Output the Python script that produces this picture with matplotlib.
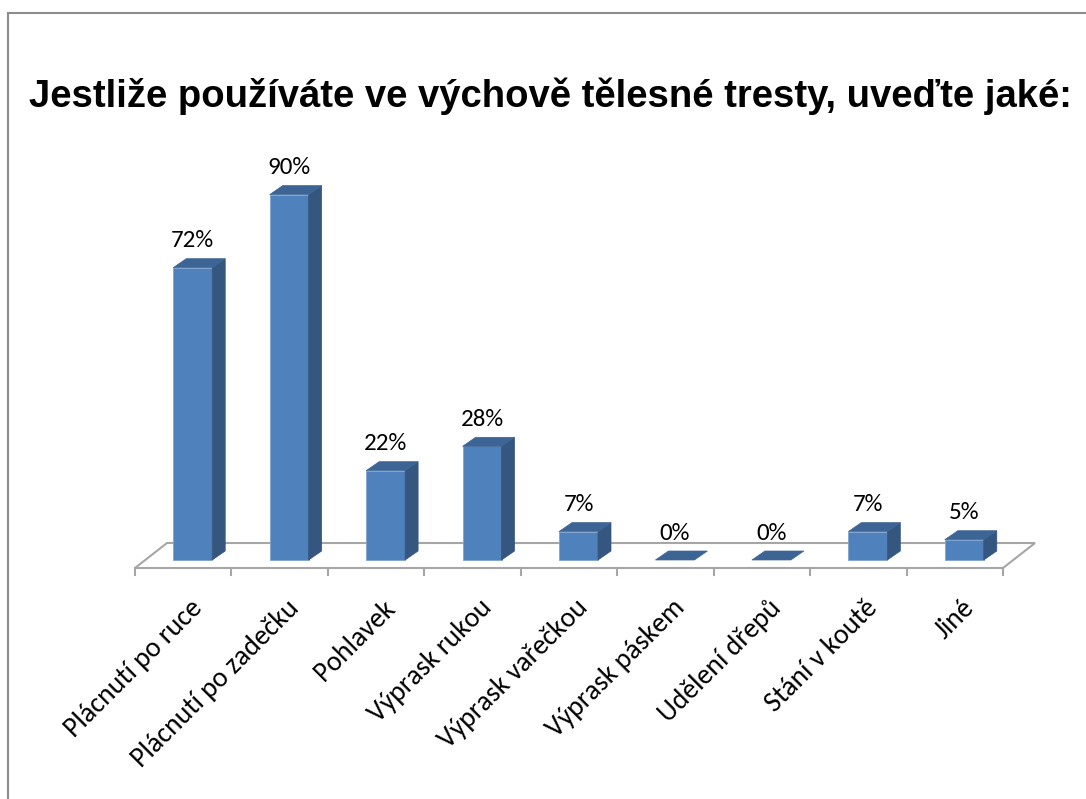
"""3D-style bar chart: tělesné tresty ve výchově"""
import matplotlib
matplotlib.use("Agg")
import matplotlib.pyplot as plt
from matplotlib.patches import Polygon
from matplotlib import font_manager

categories = [
    "Plácnutí po ruce", "Plácnutí po zadečku", "Pohlavek", "Výprask rukou",
    "Výprask vařečkou", "Výprask páskem", "Udělení dřepů", "Stání v koutě", "Jiné",
]
values = [72, 90, 22, 28, 7, 0, 0, 7, 5]
title = "Jestliže používáte ve výchově tělesné tresty, uveďte jaké:"

names = {f.name for f in font_manager.fontManager.ttflist}
label_font = ["Carlito"] if "Carlito" in names else ["Lato"]

W, H = 1086, 799
fig = plt.figure(figsize=(W / 100, H / 100), dpi=100)

# plot area in pixels: front floor edge 135..1003 at y=568, 100% = 406 px
x0, x1, y0, ppp = 135, 1003, 568, 4.06
ax = fig.add_axes([x0 / W, (H - y0) / H, (x1 - x0) / W, ppp * 100 / H])
n = len(categories)
ax.set_xlim(-0.5, n - 0.5)
ax.set_ylim(0, 100)
ax.axis("off")

px_x = (x1 - x0) / n      # pixels per category
px_y = ppp                # pixels per percent


def dx(p):
    return p / px_x


def dy(p):
    return p / px_y


# floor
floor_dx, floor_dy = dx(32), dy(25)
grey = "#a6a6a6"
floor = Polygon([(-0.5, 0), (n - 0.5, 0), (n - 0.5 + floor_dx, floor_dy),
                 (-0.5 + floor_dx, floor_dy)], closed=True, facecolor="white",
                edgecolor=grey, lw=1.5, clip_on=False, zorder=1)
ax.add_patch(floor)
for i in range(n + 1):
    ax.plot([i - 0.5, i - 0.5], [0, -dy(7)], color=grey, lw=1.5, clip_on=False, zorder=1)

# bars
front_c, side_c, top_c = "#4f81bd", "#34567f", "#3c6595"
bw = dx(39)
off_x, off_y = dx(9.5), dy(8)
dep_x, dep_y = dx(13), dy(9)
for i, v in enumerate(values):
    l = i - bw / 2 + off_x
    r = l + bw
    b = off_y
    t = b + v
    if v > 0:
        ax.add_patch(Polygon([(l, b), (r, b), (r, t), (l, t)], closed=True,
                             facecolor=front_c, edgecolor="#7fa3d0", lw=0.6,
                             clip_on=False, zorder=3))
        ax.add_patch(Polygon([(r, b), (r + dep_x, b + dep_y), (r + dep_x, t + dep_y), (r, t)],
                             closed=True, facecolor=side_c, edgecolor=side_c, lw=0.5,
                             clip_on=False, zorder=3))
    ax.add_patch(Polygon([(l, t), (r, t), (r + dep_x, t + dep_y), (l + dep_x, t + dep_y)],
                         closed=True, facecolor=top_c, edgecolor=top_c, lw=0.5,
                         clip_on=False, zorder=3))
    ax.text(i + off_x, t + dy(27), f"{v}%", ha="center", va="center",
            fontsize=18, family=label_font + ["DejaVu Sans"], color="black")

# category labels
for i, c in enumerate(categories):
    ax.text(i + dx(6), -dy(27), c, rotation=45, rotation_mode="anchor",
            ha="right", va="top", fontsize=20, family=label_font + ["DejaVu Sans"])

# title and outer frame
fig.text(550 / W, 1 - 96 / H, title, ha="center", va="center", fontsize=27.5,
         fontweight="bold", family=["Liberation Sans", "DejaVu Sans"])
fig.add_artist(plt.Line2D([8 / W, 8 / W], [0, 1 - 13 / H], color="#8c8c8c", lw=1.5))
fig.add_artist(plt.Line2D([8 / W, 1], [1 - 13 / H, 1 - 13 / H], color="#8c8c8c", lw=1.5))

fig.savefig("out.png", dpi=100)
